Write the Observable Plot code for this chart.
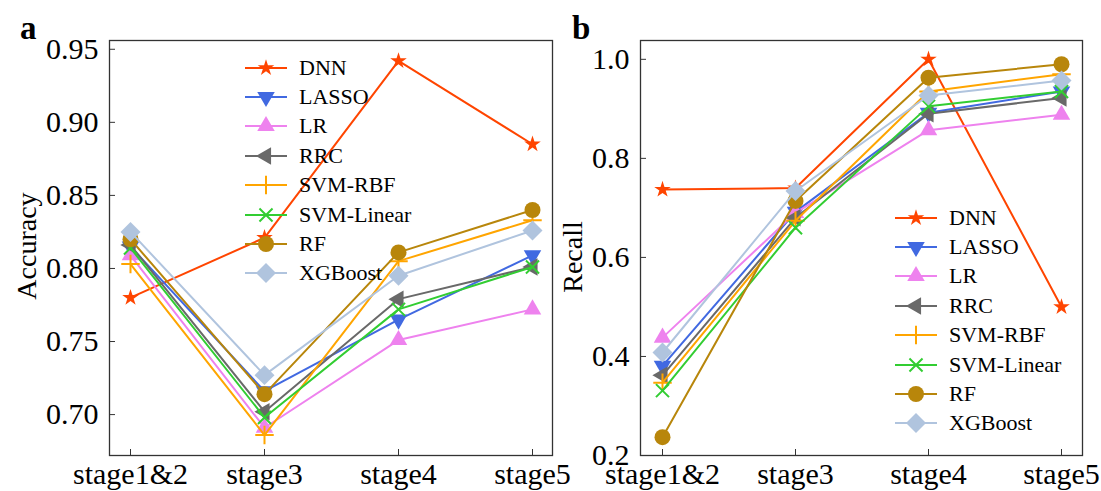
<!DOCTYPE html>
<html><head><meta charset="utf-8">
<script src="https://cdn.jsdelivr.net/npm/d3@7"></script>
<script src="https://cdn.jsdelivr.net/npm/@observablehq/plot@0.6"></script>
<style>
body{margin:0;background:#fff;font-family:"Liberation Serif",serif;}
#wrap{position:relative;width:1101px;height:491px;overflow:hidden;background:#fff;}
.panel{position:absolute;top:0;overflow:visible;}
.plbl{position:absolute;font-weight:bold;font-size:33px;line-height:1;}
.ylab{position:absolute;font-size:28px;transform:translate(-50%,-50%) rotate(-90deg);white-space:nowrap;line-height:1;}
.legend{position:absolute;font-size:22px;line-height:1;}
.legend .row{display:flex;align-items:center;height:29.4px;}
.legend svg{margin-right:8px;}
</style></head><body><div id="wrap"></div><script>
const stages = ["stage1&2", "stage3", "stage4", "stage5"];
const models = ["DNN", "LASSO", "LR", "RRC", "SVM-RBF", "SVM-Linear", "RF", "XGBoost"];
const colors = ["#FF4500", "#4169E1", "#EE82EE", "#696969", "#FFA500", "#32CD32", "#B8860B", "#B0C4DE"];

// Panel a: Accuracy
const accDNN       = [0.780, 0.821, 0.942, 0.885];
const accLASSO     = [0.815, 0.716, 0.765, 0.809];
const accLR        = [0.809, 0.691, 0.751, 0.772];
const accRRC       = [0.816, 0.702, 0.779, 0.801];
const accSVMRBF    = [0.803, 0.686, 0.805, 0.833];
const accSVMLinear = [0.814, 0.698, 0.772, 0.801];
const accRF        = [0.820, 0.714, 0.811, 0.840];
const accXGBoost   = [0.825, 0.727, 0.795, 0.826];
const accTicks = [0.70, 0.75, 0.80, 0.85, 0.90, 0.95];

// Panel b: Recall
const recDNN       = [0.737, 0.740, 1.000, 0.500];
const recLASSO     = [0.381, 0.692, 0.892, 0.935];
const recLR        = [0.438, 0.690, 0.857, 0.888];
const recRRC       = [0.362, 0.680, 0.890, 0.922];
const recSVMRBF    = [0.347, 0.674, 0.935, 0.970];
const recSVMLinear = [0.331, 0.660, 0.905, 0.935];
const recRF        = [0.237, 0.714, 0.963, 0.990];
const recXGBoost   = [0.408, 0.734, 0.927, 0.957];
const recTicks = [0.2, 0.4, 0.6, 0.8, 1.0];

const accSeries = [accDNN, accLASSO, accLR, accRRC, accSVMRBF, accSVMLinear, accRF, accXGBoost];
const recSeries = [recDNN, recLASSO, recLR, recRRC, recSVMRBF, recSVMLinear, recRF, recXGBoost];

// custom marker symbols
const triUp = {draw(ctx, size){const R=Math.sqrt(size/1.299);ctx.moveTo(0,-R);ctx.lineTo(R*0.866,R/2);ctx.lineTo(-R*0.866,R/2);ctx.closePath();}};
const triDown = {draw(ctx, size){const R=Math.sqrt(size/1.299);ctx.moveTo(0,R);ctx.lineTo(R*0.866,-R/2);ctx.lineTo(-R*0.866,-R/2);ctx.closePath();}};
const triLeft = {draw(ctx, size){const R=Math.sqrt(size/1.299);ctx.moveTo(-R,0);ctx.lineTo(R/2,-R*0.866);ctx.lineTo(R/2,R*0.866);ctx.closePath();}};
const symbols = [d3.symbolStar, triDown, triUp, triLeft, d3.symbolPlus, d3.symbolTimes, d3.symbolCircle, d3.symbolDiamond2];
const radii = [5.2, 6.5, 6.5, 6.5, 6, 6, 8, 9];
const strokeOnly = [false, false, false, false, true, true, false, false];

function makePanel(series, yDomain, ticks, fmt, left, width, mLeft, mRight) {
  const marks = [];
  marks.push(Plot.frame({stroke: "#333", strokeWidth: 1.3}));
  marks.push(Plot.axisY({ticks, tickFormat: fmt, tickSize: -6, tickPadding: 17, label: null, stroke: "#333"}));
  marks.push(Plot.axisX({tickSize: -6, tickPadding: 13, label: null, stroke: "#333"}));
  models.forEach((m, i) => {
    const rows = stages.map((s, j) => ({stage: s, value: series[i][j]}));
    marks.push(Plot.line(rows, {x: "stage", y: "value", stroke: colors[i], strokeWidth: 2}));
    marks.push(Plot.dot(rows, {x: "stage", y: "value", symbol: () => symbols[i], r: radii[i],
      fill: strokeOnly[i] ? "none" : colors[i], stroke: strokeOnly[i] ? colors[i] : "none", strokeWidth: 2}));
  });
  const svg = Plot.plot({
    width, height: 491, marginLeft: mLeft, marginRight: mRight, marginTop: 40, marginBottom: 36,
    x: {type: "point", domain: stages, padding: 0.15},
    y: {domain: yDomain},
    symbol: {type: "identity"},
    style: {fontFamily: "'Liberation Serif', serif", fontSize: "30px", color: "black", background: "transparent", overflow: "visible"},
    marks
  });
  svg.classList.add("panel");
  svg.style.left = left + "px";
  return svg;
}

function makeLegend(left, top) {
  const div = document.createElement("div");
  div.className = "legend";
  div.style.left = left + "px";
  div.style.top = top + "px";
  models.forEach((m, i) => {
    const row = document.createElement("div");
    row.className = "row";
    const s = d3.create("svg").attr("width", 50).attr("height", 28);
    s.append("line").attr("x1", 4).attr("x2", 46).attr("y1", 14).attr("y2", 14).attr("stroke", colors[i]).attr("stroke-width", 2);
    s.append("path").attr("transform", "translate(25,14)")
      .attr("d", d3.symbol(symbols[i], Math.PI * radii[i] * radii[i])())
      .attr("fill", strokeOnly[i] ? "none" : colors[i])
      .attr("stroke", strokeOnly[i] ? colors[i] : "none").attr("stroke-width", 2);
    row.appendChild(s.node());
    const t = document.createElement("span");
    t.textContent = m;
    row.appendChild(t);
    div.appendChild(row);
  });
  return div;
}

const wrap = document.getElementById("wrap");
wrap.appendChild(makePanel(accSeries, [0.672, 0.956], accTicks, d3.format(".2f"), 0, 560, 109, 8));
wrap.appendChild(makePanel(recSeries, [0.2, 1.038], recTicks, d3.format(".1f"), 550, 551, 90, 19));
wrap.appendChild(makeLegend(241, 53));
wrap.appendChild(makeLegend(891, 203));

function addText(cls, txt, x, y) {
  const d = document.createElement("div");
  d.className = cls; d.textContent = txt;
  d.style.left = x + "px"; d.style.top = y + "px";
  wrap.appendChild(d);
}
addText("plbl", "a", 20, 12);
addText("plbl", "b", 572, 12);
addText("ylab", "Accuracy", 27, 246);
addText("ylab", "Recall", 573, 257);
</script></body></html>
